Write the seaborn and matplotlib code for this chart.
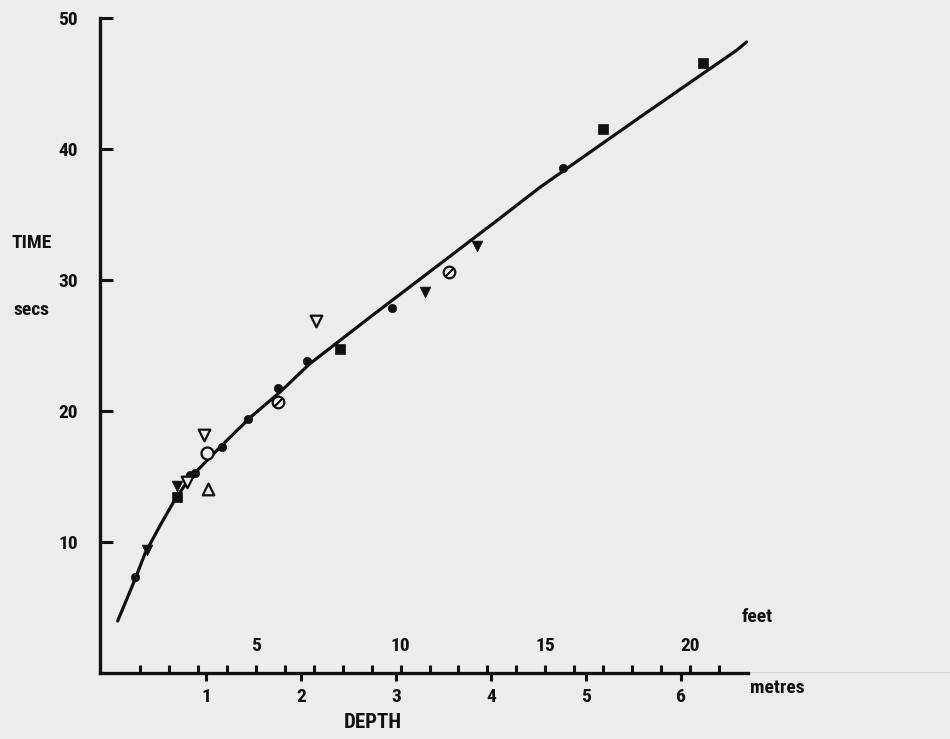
import matplotlib
matplotlib.use('Agg')
import matplotlib.pyplot as plt
import seaborn as sns
import pandas as pd

# ---- data ----
depth_m = [0.25, 0.38, 0.69, 0.69, 0.80, 0.83, 0.88, 1.02, 0.98, 1.01, 1.17, 1.44,
           1.76, 1.76, 2.06, 2.16, 2.41, 2.96, 3.31, 3.56, 3.85, 4.76, 5.18, 6.23]
time_s = [7.3, 9.4, 13.4, 14.3, 14.6, 15.1, 15.3, 14.05, 18.2, 16.8, 17.25, 19.4,
          21.75, 20.7, 23.8, 26.9, 24.7, 27.9, 29.1, 30.6, 32.6, 38.55, 41.5, 46.55]
symbol = ['dot', 'tri_down_filled', 'square', 'tri_down_filled', 'tri_down_open', 'dot',
          'dot', 'tri_up_open', 'tri_down_open', 'circle_open', 'dot', 'dot',
          'dot', 'circle_slash', 'dot', 'tri_down_open', 'square', 'dot',
          'tri_down_filled', 'circle_slash', 'tri_down_filled', 'dot', 'square', 'square']

curve_depth = [0.07, 0.25, 0.36, 0.52, 0.67, 0.83, 1.17, 1.46, 1.78, 2.09, 2.73,
               4.07, 4.52, 5.57, 6.59, 6.69]
curve_time = [3.97, 7.1, 9.16, 11.3, 13.2, 14.89, 17.4, 19.47, 21.45, 23.59, 27.18,
              34.58, 37.1, 42.44, 47.56, 48.17]

metre_ticks = [1, 2, 3, 4, 5, 6]
feet_major = [5, 10, 15, 20]
feet_minor = [1, 2, 3, 4, 6, 7, 8, 9, 11, 12, 13, 14, 16, 17, 18, 19, 21]
time_ticks = [10, 20, 30, 40, 50]

# ---- style ----
sns.set_theme(style='ticks')
plt.rcParams['font.family'] = ['Liberation Sans Narrow', 'DejaVu Sans Condensed',
                               'Roboto Condensed', 'Liberation Sans', 'DejaVu Sans']
plt.rcParams['font.weight'] = 'bold'
BG = '#ececec'
INK = '#111111'
FS = 14

fig = plt.figure(figsize=(9.5, 7.39), dpi=100, facecolor=BG)
ax = fig.add_axes([100 / 950, 66 / 739, 850 / 950, 655 / 739])
ax.set_facecolor(BG)
x0, x1 = (100 - 111) / 95, (950 - 111) / 95
ax.set_xlim(x0, x1)
ax.set_ylim(0, 50)

sns.lineplot(x=curve_depth, y=curve_time, ax=ax, color=INK, lw=2.3,
             sort=False, estimator=None, zorder=2)

df = pd.DataFrame(dict(depth=depth_m, time=time_s, symbol=symbol))
styles = {
    'dot': dict(marker='o', s=36, facecolor=INK, edgecolor=INK, linewidth=0.5),
    'square': dict(marker='s', s=55, facecolor=INK, edgecolor=INK, linewidth=0.5),
    'tri_down_filled': dict(marker='v', s=60, facecolor=INK, edgecolor=INK, linewidth=0.5),
    'tri_down_open': dict(marker='v', s=70, facecolor=BG, edgecolor=INK, linewidth=1.6),
    'tri_up_open': dict(marker='^', s=70, facecolor=BG, edgecolor=INK, linewidth=1.6),
    'circle_open': dict(marker='o', s=75, facecolor=BG, edgecolor=INK, linewidth=1.6),
    'circle_slash': dict(marker='o', s=70, facecolor=BG, edgecolor=INK, linewidth=1.6),
}
for key, st in styles.items():
    sub = df[df['symbol'] == key]
    if sub.empty:
        continue
    sns.scatterplot(data=sub, x='depth', y='time', ax=ax, color=INK, zorder=3,
                    legend=False, clip_on=False, **st)
    if key == 'circle_slash':
        sns.scatterplot(data=sub, x='depth', y='time', ax=ax, marker=(2, 2, -45),
                        s=60, color=INK, linewidth=1.3, zorder=4, legend=False)

# ---- axes ----
for side in ('top', 'right'):
    ax.spines[side].set_visible(False)
ax.spines['left'].set_linewidth(2.4)
ax.spines['left'].set_color(INK)
ax.spines['left'].set_bounds(0, 50)
ax.spines['bottom'].set_linewidth(2.4)
ax.spines['bottom'].set_color(INK)
ax.spines['bottom'].set_bounds(x0, 6.71)
ax.axhline(0, xmin=(6.71 - x0) / (x1 - x0), xmax=1, color='#8a8a8a', lw=1.0, zorder=1)

ax.set_yticks(time_ticks)
ax.tick_params(axis='y', direction='in', length=9, width=2.2, pad=16,
               labelsize=FS, colors=INK, left=True)
ax.set_xticks(metre_ticks)
ax.tick_params(axis='x', direction='out', length=6, width=2.2, pad=5,
               labelsize=FS, colors=INK, bottom=True)
ax.set_xlabel('')
ax.set_ylabel('')

sec = ax.secondary_xaxis(0, functions=(lambda m: m / 0.3048, lambda f: f * 0.3048))
sec.set_xticks(feet_major)
sec.set_xticks(feet_minor, minor=True)
sec.tick_params(which='both', direction='in', length=6, width=2.2, pad=-26,
                labelsize=FS, colors=INK)
sec.spines['bottom'].set_visible(False)
sec.spines['top'].set_visible(False)

# ---- texts ----
fig.text(12 / 950, 1 - 243 / 739, 'TIME', ha='left', va='center', fontsize=14, color=INK)
fig.text(13 / 950, 1 - 310 / 739, 'secs', ha='left', va='center', fontsize=14, color=INK)
fig.text(373 / 950, 1 - 723 / 739, 'DEPTH', ha='center', va='center', fontsize=15, color=INK)
fig.text(742 / 950, 1 - 617 / 739, 'feet', ha='left', va='center', fontsize=14, color=INK)
fig.text(750 / 950, 1 - 688 / 739, 'metres', ha='left', va='center', fontsize=14, color=INK)

fig.savefig('out.png', dpi=100, facecolor=BG)
